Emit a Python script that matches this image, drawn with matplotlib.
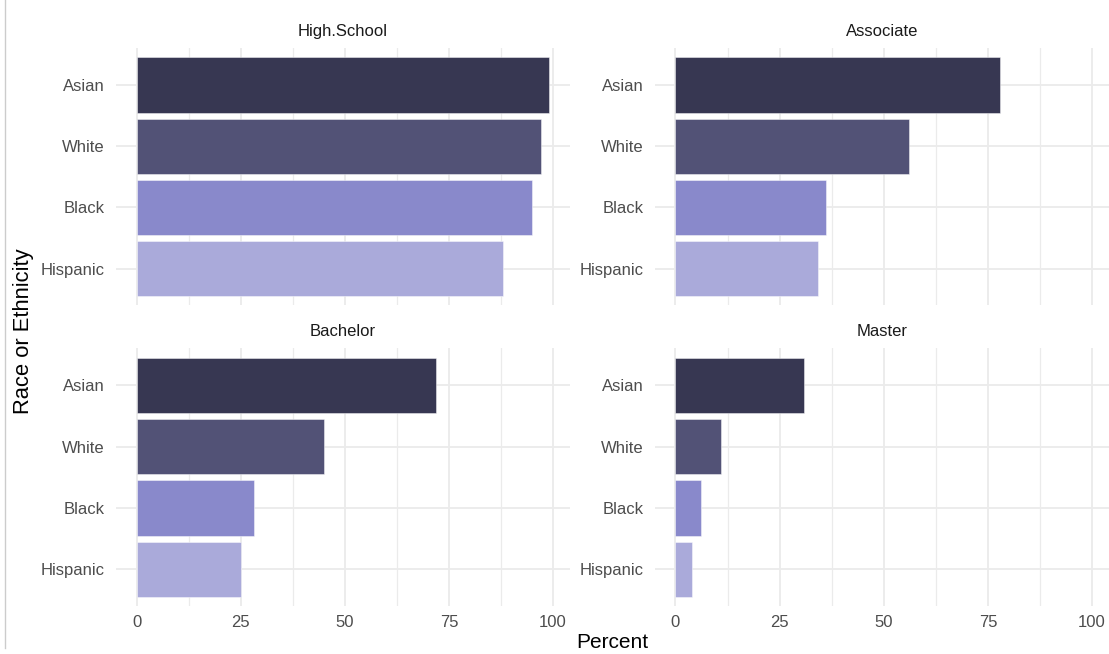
import matplotlib
matplotlib.use("Agg")
import matplotlib.pyplot as plt
from matplotlib.ticker import MultipleLocator
from matplotlib.lines import Line2D
import numpy as np

plt.rcParams['font.family'] = ['Liberation Sans', 'DejaVu Sans']

categories = ["Asian", "White", "Black", "Hispanic"]
colors = ["#373752", "#525276", "#8989CB", "#AAAADA"]
panels = ["High.School", "Associate", "Bachelor", "Master"]
high_school = [99.1, 97.1, 95.0, 88.0]
associate = [78.0, 56.0, 36.1, 34.1]
bachelor = [71.9, 45.0, 28.1, 25.0]
master = [30.9, 10.9, 6.1, 4.0]
values = [high_school, associate, bachelor, master]
x_ticks = [0, 25, 50, 75, 100]

W, H = 1109, 654
fig = plt.figure(figsize=(W / 100, H / 100), dpi=100)

xmax = max(max(v) for v in values)
xlim = (-0.05 * xmax, 1.05 * xmax)

boxes = [
    (116, 570, 48.3, 305.2),
    (654.8, 1109, 48.3, 305.2),
    (116, 570, 348.3, 606.2),
    (654.8, 1109, 348.3, 606.2),
]

grid_col = "#EBEBEB"
for i, (name, vals, (x0, x1, y0, y1)) in enumerate(zip(panels, values, boxes)):
    ax = fig.add_axes([x0 / W, 1 - y1 / H, (x1 - x0) / W, (y1 - y0) / H])
    y = np.arange(len(categories))
    ax.barh(y, vals, height=0.9, color=colors, edgecolor=(1, 1, 1, 0.45),
            linewidth=0.7, zorder=3)
    ax.set_xlim(*xlim)
    ax.set_ylim(len(categories) - 0.4, -0.6)
    ax.set_yticks(y)
    ax.set_yticklabels(categories)
    ax.set_xticks(x_ticks)
    ax.xaxis.set_minor_locator(MultipleLocator(12.5))
    ax.grid(which="major", color=grid_col, linewidth=1.3, zorder=0)
    ax.grid(which="minor", axis="x", color=grid_col, linewidth=0.9, zorder=0)
    ax.set_axisbelow(True)
    for s in ax.spines.values():
        s.set_visible(False)
    ax.tick_params(which="both", length=0)
    ax.tick_params(axis="y", pad=8, labelsize=12, labelcolor="#4D4D4D")
    ax.tick_params(axis="x", pad=6, labelsize=12, labelcolor="#4D4D4D")
    if i < 2:
        ax.set_xticklabels([])
    ax.set_title(name, fontsize=12, color="#1A1A1A", pad=9)

fig.text(612.5 / W, 1 - 642 / H, "Percent", ha="center", va="center",
         fontsize=15, color="black")
fig.text(23.5 / W, 1 - 331 / H, "Race or Ethnicity", ha="center", va="center",
         rotation=90, fontsize=15.8, color="black")

fig.add_artist(Line2D([4.5 / W, 4.5 / W], [1 - 648 / H, 1], transform=fig.transFigure,
                      color="#CCCCCC", linewidth=1.0))

fig.savefig("out.png", dpi=100)
